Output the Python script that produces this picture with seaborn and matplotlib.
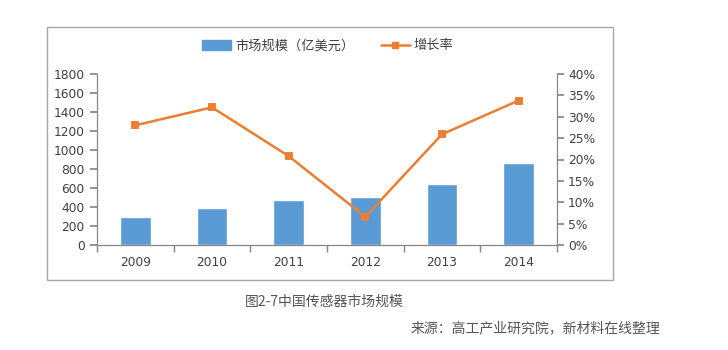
import matplotlib
matplotlib.use("Agg")
import matplotlib.pyplot as plt
import seaborn as sns
import pandas as pd
import numpy as np
from matplotlib.patches import Rectangle
from matplotlib.lines import Line2D

years = ["2009", "2010", "2011", "2012", "2013", "2014"]
market = [298, 392, 476, 508, 645, 864]
growth = [28.0, 32.2, 20.8, 6.6, 25.9, 33.8]
left_ticks = [0, 200, 400, 600, 800, 1000, 1200, 1400, 1600, 1800]
right_ticks = [0, 5, 10, 15, 20, 25, 30, 35, 40]
bar_label = "市场规模（亿美元）"
line_label = "增长率"
caption = "图2-7中国传感器市场规模"
source = "来源：高工产业研究院，新材料在线整理"

sns.set_theme(style="white")
plt.rcParams['font.family'] = ['Noto Sans CJK SC', 'DejaVu Sans']

df = pd.DataFrame({"year": years, "market": market, "growth": growth})
blue = "#5B9BD5"
orange = "#ED7D31"
axc = "#868686"
txt = "#404040"

fig = plt.figure(figsize=(7.28, 3.5), dpi=100)
fig.patch.set_facecolor("white")
# outer chart frame
fig.add_artist(Rectangle((47/728, 1-280/350), (613-47)/728, (280-27)/350,
                         transform=fig.transFigure, fill=False, edgecolor="#A6A6A6", lw=1.0))

ax = fig.add_axes([97/728, 1-245/350, (557-97)/728, (245-74)/350])
sns.barplot(data=df, x="year", y="market", color=blue, width=0.40, ax=ax, saturation=1)
ax.set_xlim(-0.5, 5.5)
ax.set_ylim(0, 1800)
ax.set_yticks(left_ticks)
ax.set_xlabel("")
ax.set_ylabel("")

ax2 = ax.twinx()
sns.pointplot(data=df, x="year", y="growth", color=orange, markers="s", ax=ax2,
              linewidth=1.8, markersize=5)
ax2.set_xlim(-0.5, 5.5)
ax2.set_ylim(0, 40)
ax2.set_yticks(right_ticks)
ax2.set_yticklabels([f"{t}%" for t in right_ticks])
ax2.set_ylabel("")
ax2.set_xlabel("")

for a in (ax, ax2):
    for s in a.spines.values():
        s.set_visible(False)
ax.spines['left'].set_visible(True)
ax.spines['bottom'].set_visible(True)
ax2.spines['right'].set_visible(True)
for s in (ax.spines['left'], ax.spines['bottom'], ax2.spines['right']):
    s.set_color(axc)
    s.set_linewidth(0.9)

ax.tick_params(axis='y', which='major', length=5, color=axc, labelsize=9, labelcolor=txt, pad=4, left=True)
ax2.tick_params(axis='y', which='major', length=5, color=axc, labelsize=9, labelcolor=txt, pad=3, right=True)
ax.tick_params(axis='x', which='major', length=0, labelsize=9, labelcolor=txt, pad=8)
ax.set_xticks(np.arange(-0.5, 6, 1), minor=True)
ax.tick_params(axis='x', which='minor', length=5, color=axc, bottom=True)
for lab in ax.get_yticklabels() + ax2.get_yticklabels() + ax.get_xticklabels():
    lab.set_family(['DejaVu Sans'])
    lab.set_fontsize(8.8)

handles = [Rectangle((0, 0), 1, 1, color=blue),
           Line2D([0], [0], color=orange, lw=1.8, marker='s', markersize=5)]
fig.legend(handles, [bar_label, line_label], loc='center', bbox_to_anchor=(328/728, 1-46/350),
           ncol=2, frameon=False, fontsize=9.5, handlelength=2.2, columnspacing=2.0,
           handletextpad=0.3, labelcolor=txt)

fig.text(245/728, 1-302/350, caption, fontsize=10, color="#555555", va='center', ha='left')
fig.text(660/728, 1-328/350, source, fontsize=10, color="#555555", va='center', ha='right',
         style='italic')

fig.savefig("out.png", dpi=100, facecolor="white")
